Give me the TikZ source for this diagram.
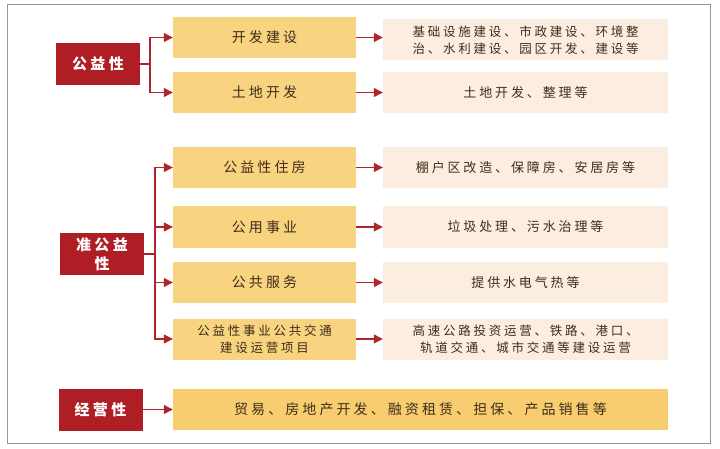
\documentclass[tikz,border=0pt]{standalone}
\usepackage{fontspec}
\newfontfamily\cjk[LetterSpace=22]{Noto Sans CJK SC}
\usepackage{tikz}
\usetikzlibrary{arrows.meta}
\definecolor{redbox}{RGB}{174,30,36}
\definecolor{yelbox}{RGB}{248,211,128}
\definecolor{yelwide}{RGB}{247,205,112}
\definecolor{beige}{RGB}{251,237,224}
\definecolor{linkred}{RGB}{176,36,46}
\definecolor{ink}{RGB}{62,46,24}
\definecolor{frame}{RGB}{150,150,150}
\tikzset{
	tri/.tip={Triangle[length=9pt, width=9pt]},
	% link from one box to another
	link/.style={draw=linkred, line width=1.3pt, -tri, color=linkred},
	% kinds of boxes
	kind/.style={fill=redbox, text=white, minimum width=84pt, minimum height=42pt,
		align=center, font=\cjk\bfseries\fontsize{15}{19}\selectfont, inner sep=0pt},
	item/.style={fill=yelbox, text=ink, minimum width=183pt, minimum height=41pt,
		align=center, font=\cjk\fontsize{14}{17}\selectfont, inner sep=0pt},
	note/.style={fill=beige, text=ink, minimum width=285pt, minimum height=41pt,
		align=center, font=\cjk\fontsize{13}{17}\selectfont, inner sep=0pt},
	small/.style={font=\cjk\fontsize{12.5}{17}\selectfont}
}
\begin{document}
\begin{tikzpicture}[x=1pt, y=-1pt]
	\useasboundingbox (0,0) rectangle (720,449);
	\draw[frame, line width=1pt] (7,5) rectangle (710,443);

	% Public welfare
	\node[kind] (pub) at (98,64) {公益性};
	\node[item] (build) at (264.5,37.5) {开发建设};
	\node[item] (land) at (264.5,92.5) {土地开发};
	\node[note, small] (buildnote) at (525.5,40) {基础设施建设、市政建设、环境整\\治、水利建设、园区开发、建设等};
	\node[note] (landnote) at (525.5,93) {土地开发、整理等};

	\draw[link] (pub.east) -- (150,64) |- (build.west);
	\draw[link] (pub.east) -- (150,64) |- (land.west);
	\draw[link] (build.east) -- (build.east -| buildnote.west);
	\draw[link] (land.east) -- (land.east -| landnote.west);

	% Quasi public welfare
	\node[kind] (quasi) at (102,254) {准公益\\性};
	\node[item] (house) at (264.5,167.5) {公益性住房};
	\node[item] (util) at (264.5,227) {公用事业};
	\node[item] (serv) at (264.5,282.5) {公共服务};
	\node[item, small] (traffic) at (264.5,339) {公益性事业公共交通\\建设运营项目};
	\node[note] (housenote) at (525.5,167.5) {棚户区改造、保障房、安居房等};
	\node[note] (utilnote) at (525.5,227) {垃圾处理、污水治理等};
	\node[note] (servnote) at (525.5,282.5) {提供水电气热等};
	\node[note, small] (trafficnote) at (525.5,339) {高速公路投资运营、铁路、港口、\\轨道交通、城市交通等建设运营};

	\foreach \x in {house, util, serv, traffic}{
		\draw[link] (quasi.east) -- (155,254) |- (\x.west);
		\draw[link] (\x.east) -- (\x note.west);
	}

	% Commercial
	\node[kind] (biz) at (100.5,409.5) {经营性};
	\node[item, fill=yelwide, minimum width=495pt] (biznote) at (420.5,409.5) {贸易、房地产开发、融资租赁、担保、产品销售等};
	\draw[link] (biz.east) -- (biznote.west);
\end{tikzpicture}
\end{document}
